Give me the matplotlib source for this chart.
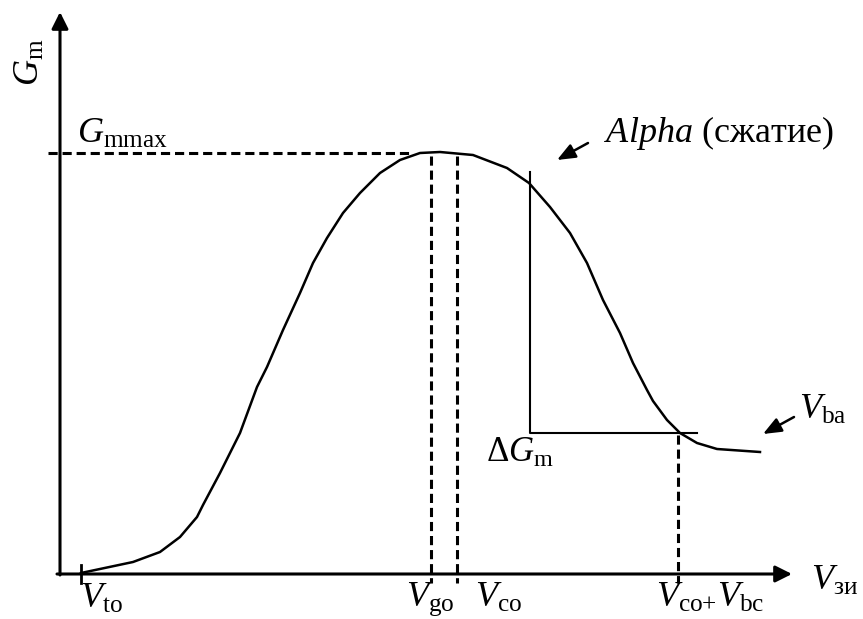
import matplotlib
matplotlib.use("Agg")
import matplotlib.pyplot as plt

plt.rcParams['font.family'] = ['Liberation Serif', 'DejaVu Serif']
plt.rcParams['mathtext.fontset'] = 'custom'
plt.rcParams['mathtext.rm'] = 'Liberation Serif'
plt.rcParams['mathtext.it'] = 'Liberation Serif:italic'

# curve of Gm vs gate voltage (drawing units, y grows downward)
curve_x = [81, 133, 160, 180, 197, 203, 220, 240, 257, 267, 283, 300, 313,
           327, 343, 360, 380, 400, 420, 440, 473, 507, 529, 550, 570, 587,
           603, 620, 633, 647, 653, 667, 680, 697, 717, 760]
curve_y = [573, 562, 552, 537, 517, 505, 473, 433, 387, 367, 330, 293, 263,
           238, 213, 193, 173, 160, 153, 152, 155, 168, 183, 207, 233, 263,
           300, 333, 363, 390, 401, 420, 433, 443, 449, 452]

# key voltages along the x axis
v_to, v_go, v_co, v_cobc = 81, 431, 457, 678
g_max = 153        # level of Gm max
dg_level = 433     # level of the delta Gm step
alpha_x, alpha_top = 530, 172

x_axis_y, y_axis_x = 574, 60

fig = plt.figure(figsize=(8.63, 6.19), dpi=100)
ax = fig.add_axes([0, 0, 1, 1])
ax.set_xlim(0, 863)
ax.set_ylim(619, 0)
ax.axis('off')

# axes with arrows
arrow = dict(arrowstyle='-|>,head_length=1.0,head_width=0.5', lw=2.2,
             color='k', shrinkA=0, shrinkB=0)
ax.annotate('', xy=(y_axis_x, 12), xytext=(y_axis_x, x_axis_y + 1), arrowprops=arrow)
ax.annotate('', xy=(792, x_axis_y), xytext=(y_axis_x - 3, x_axis_y), arrowprops=arrow)

ax.plot(curve_x, curve_y, color='k', lw=1.8, solid_joinstyle='round')

# dashed guides
dash = dict(color='k', lw=2.2, linestyle=(0, (3, 1.6)))
ax.plot([48, 412], [g_max, g_max], **dash)
for xv in (v_go, v_co):
    ax.plot([xv, xv], [g_max + 3, x_axis_y + 9], **dash)
ax.plot([v_cobc, v_cobc], [dg_level + 2, x_axis_y + 9], **dash)
ax.plot([v_to, v_to], [x_axis_y - 9, x_axis_y + 9], color='k', lw=2)

# compression step
ax.plot([alpha_x, alpha_x, 697], [alpha_top, dg_level, dg_level], color='k', lw=1.5)

small = dict(arrowstyle='-|>,head_length=1.1,head_width=0.45', lw=1.8,
             color='k', shrinkA=0, shrinkB=0)
ax.annotate('', xy=(557, 160), xytext=(588, 143), arrowprops=small)
ax.annotate('', xy=(763, 434), xytext=(794, 417), arrowprops=small)

fs = 26
ax.text(30, 62, r'$G_{\mathrm{m}}$', fontsize=fs, rotation=90, ha='center', va='center')
ax.text(77, 143, r'$G_{\mathrm{mmax}}$', fontsize=fs, ha='left', va='baseline')
ax.text(604, 142, r'$Alpha$ (сжатие)', fontsize=fs, ha='left', va='baseline')
ax.text(486, 462, r'$\Delta G_{\mathrm{m}}$', fontsize=25, ha='left', va='baseline')
ax.text(799, 419, r'$V_{\mathrm{ba}}$', fontsize=fs, ha='left', va='baseline')
ax.text(811, 590, r'$V_{\mathrm{зи}}$', fontsize=fs, ha='left', va='baseline')
ax.text(80, 608, r'$V_{\mathrm{to}}$', fontsize=fs, ha='left', va='baseline')
ax.text(406, 606, r'$V_{\mathrm{go}}$', fontsize=fs, ha='left', va='baseline')
ax.text(475, 607, r'$V_{\mathrm{co}}$', fontsize=fs, ha='left', va='baseline')
ax.text(656, 607, r'$V_{\mathrm{co{+}}}V_{\mathrm{bc}}$', fontsize=fs, ha='left', va='baseline')

fig.savefig('out.png', dpi=100)
